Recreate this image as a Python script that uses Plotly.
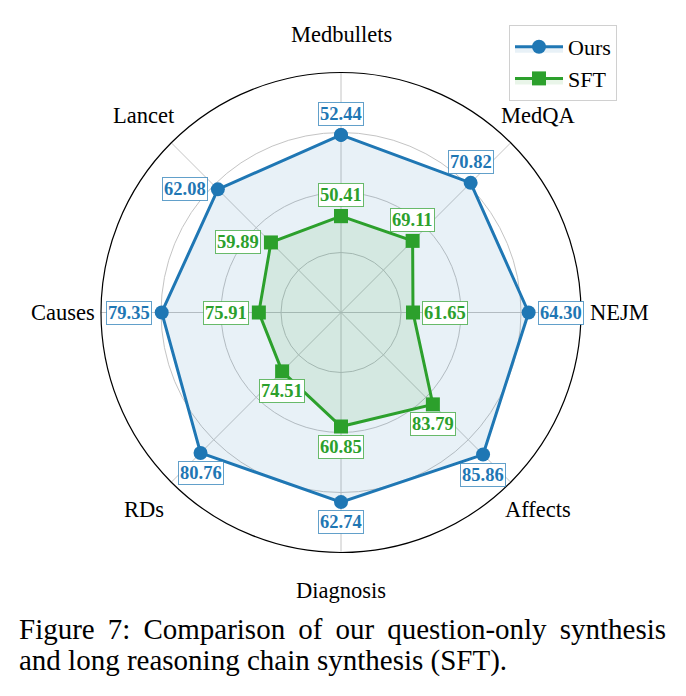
import math
import plotly.graph_objects as go

categories = ["Medbullets", "MedQA", "NEJM", "Affects", "Diagnosis", "RDs", "Causes", "Lancet"]
ours = [52.44, 70.82, 64.30, 85.86, 62.74, 80.76, 79.35, 62.08]
sft = [50.41, 69.11, 61.65, 83.79, 60.85, 74.51, 75.91, 59.89]
# per-axis scale (each spoke has its own value range)
axis_lo = [48, 67, 60, 80, 58, 70, 73, 57]
axis_hi = [54, 72, 65.5, 87, 64, 83, 81.5, 64]
label_side = ["up", "up", "right", "down", "down", "down", "left", "left"]

n = len(categories)
angles = [360.0 * i / n for i in range(n)]


def norm(vals):
    return [(v - lo) / (hi - lo) for v, lo, hi in zip(vals, axis_lo, axis_hi)]


series = [
    ("Ours", ours, "#1f77b4", "rgba(31,119,180,0.10)", "circle", "rgba(31,119,180,0.7)"),
    ("SFT", sft, "#2ca02c", "rgba(44,160,44,0.10)", "square", "rgba(44,160,44,0.7)"),
]

SERIF = "Liberation Serif, Times New Roman, serif"
fig = go.Figure()
annotations = []
for name, vals, col, fillc, sym, bcol in series:
    r = norm(vals)
    fig.add_trace(go.Scatterpolar(
        r=r + [r[0]], theta=angles + [angles[0]], mode="lines+markers", name=name,
        line=dict(color=col, width=3), marker=dict(symbol=sym, size=14, color=col),
        fill="toself", fillcolor=fillc, hoverinfo="skip",
    ))
    for rv, ang, v, side in zip(r, angles, vals, label_side):
        t = math.radians(ang)
        xs = {"right": 32, "left": -33}.get(side, 0)
        ys = {"up": 21, "down": -20}.get(side, 0)
        annotations.append(dict(
            x=rv * math.sin(t), y=rv * math.cos(t), xref="x", yref="y",
            text="<b>%.2f</b>" % v, showarrow=False, xshift=xs, yshift=ys,
            font=dict(family=SERIF, size=18.5, color=col),
            bgcolor="white", bordercolor=bcol, borderwidth=1, borderpad=1,
        ))

# category labels outside the circle
for cat, ang in zip(categories, angles):
    t = math.radians(ang)
    annotations.append(dict(
        x=1.16 * math.sin(t), y=1.16 * math.cos(t), xref="x", yref="y",
        text=cat, showarrow=False, font=dict(family=SERIF, size=22.5, color="black"),
    ))

caption_lines = [
    "Figure\u2009 7:\u2009 Comparison\u2009 of\u2009 our\u2009 question-only\u2009 synthesis",
    "and long reasoning chain synthesis (SFT).",
]
for i, line in enumerate(caption_lines):
    annotations.append(dict(
        x=17 / 686, y=1 - (611 + 30.5 * i) / 696, xref="paper", yref="paper",
        xanchor="left", yanchor="top", align="left", showarrow=False,
        text=line, font=dict(family=SERIF, size=29, color="black"),
    ))

# invisible cartesian helper sharing the polar frame (for label placement)
fig.add_trace(go.Scatter(x=[0], y=[0], mode="markers", marker=dict(opacity=0),
                         showlegend=False, hoverinfo="skip", xaxis="x", yaxis="y"))

CX, CY, RPX = 341, 312.5, 240  # polar centre / radius in px
EXT = 1.3
dom_x = [(CX - RPX) / 686, (CX + RPX) / 686]
dom_y = [1 - (CY + RPX) / 696, 1 - (CY - RPX) / 696]
hx = [(CX - RPX * EXT) / 686, (CX + RPX * EXT) / 686]
hy = [1 - (CY + RPX * EXT) / 696, 1 - (CY - RPX * EXT) / 696]

fig.update_layout(
    width=686, height=696, margin=dict(l=0, r=0, t=0, b=0),
    paper_bgcolor="white", plot_bgcolor="rgba(0,0,0,0)",
    font=dict(family=SERIF, color="black"),
    polar=dict(
        domain=dict(x=dom_x, y=dom_y), bgcolor="white",
        radialaxis=dict(range=[0, 1], tickvals=[0.25, 0.5, 0.75], showticklabels=False,
                        ticks="", showline=False, gridcolor="#c4c4c4", gridwidth=1),
        angularaxis=dict(rotation=90, direction="clockwise", tickvals=angles,
                         showticklabels=False, ticks="", showline=True, linecolor="black",
                         linewidth=1.2, gridcolor="#c4c4c4", gridwidth=1),
    ),
    xaxis=dict(domain=hx, range=[-EXT, EXT], visible=False, fixedrange=True),
    yaxis=dict(domain=hy, range=[-EXT, EXT], visible=False, fixedrange=True),
    legend=dict(x=617 / 686, xanchor="right", y=1 - 25 / 696, yanchor="top",
                bgcolor="white", bordercolor="#d0d0d0", borderwidth=1,
                font=dict(family=SERIF, size=22), itemwidth=48, tracegroupgap=2),
    annotations=annotations,
    showlegend=True,
)

fig.write_html("out.html")
